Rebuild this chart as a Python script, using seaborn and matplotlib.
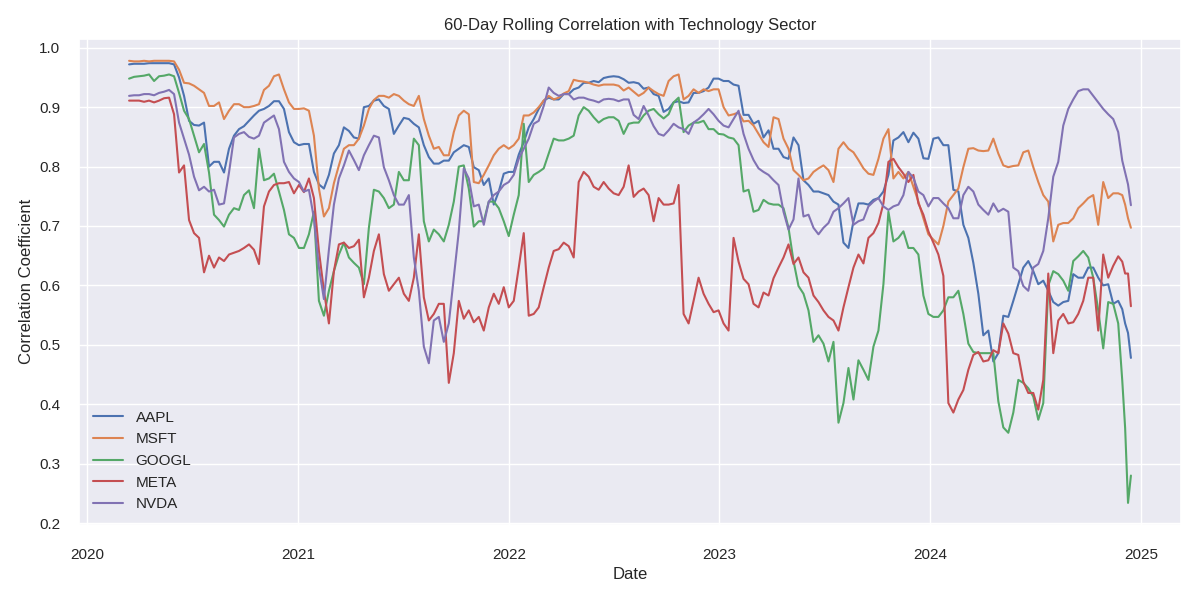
import numpy as np
import pandas as pd
import matplotlib
matplotlib.use("Agg")
import matplotlib.pyplot as plt
import seaborn as sns

# Sample dates: ~8.6-day steps from mid March 2020 to late Nov 2024, then a denser tail
grid_start = "2020-03-14"
grid_end = "2024-11-22"
grid_points = 199
tail_dates = ["2024-11-29", "2024-12-04", "2024-12-09", "2024-12-14"]

tickers = ["AAPL", "MSFT", "GOOGL", "META", "NVDA"]

# Values read at even grid steps ("_a") and at the half-steps in between ("_b")
aapl_a = [0.972, 0.973, 0.974, 0.974, 0.974, 0.95, 0.877, 0.869, 0.80, 0.808,
          0.83, 0.863, 0.877, 0.894, 0.902, 0.91, 0.858, 0.836, 0.838, 0.77,
          0.786, 0.836, 0.86, 0.847, 0.902, 0.913, 0.897, 0.869, 0.88, 0.866,
          0.816, 0.805, 0.81, 0.83, 0.833, 0.794, 0.78, 0.758, 0.791, 0.82,
          0.866, 0.897, 0.916, 0.913, 0.922, 0.933, 0.941, 0.942, 0.951, 0.951,
          0.941, 0.94, 0.933, 0.919, 0.897, 0.91, 0.908, 0.924, 0.933, 0.948,
          0.944, 0.936, 0.887, 0.877, 0.861, 0.83, 0.813, 0.836, 0.769, 0.758,
          0.752, 0.736, 0.663, 0.738, 0.736, 0.747, 0.786, 0.849, 0.841, 0.847,
          0.813, 0.849, 0.836, 0.758, 0.68, 0.586, 0.524, 0.486, 0.547, 0.602,
          0.641, 0.602, 0.591, 0.566, 0.574, 0.613, 0.63, 0.613, 0.602, 0.574]
aapl_b = [0.973, 0.973, 0.974, 0.974, 0.972, 0.919, 0.87, 0.874, 0.808, 0.79,
          0.852, 0.868, 0.886, 0.897, 0.91, 0.897,
          0.841, 0.838, 0.791, 0.763, 0.822, 0.866, 0.849, 0.9, 0.911, 0.902,
          0.855, 0.882, 0.872, 0.836, 0.805, 0.81, 0.824,
          0.836, 0.799, 0.769, 0.736, 0.788, 0.791, 0.841, 0.88, 0.911, 0.913,
          0.922, 0.93, 0.941, 0.944, 0.949, 0.952, 0.947,
          0.942, 0.931, 0.922, 0.892, 0.908, 0.907, 0.924, 0.927, 0.948, 0.944,
          0.938, 0.887, 0.872, 0.849, 0.83, 0.816, 0.849,
          0.777, 0.758, 0.755, 0.741, 0.672, 0.708, 0.738, 0.744, 0.758, 0.844,
          0.858, 0.857, 0.814, 0.847, 0.836, 0.761, 0.702,
          0.638, 0.516, 0.472, 0.549, 0.574, 0.63, 0.624, 0.608, 0.572, 0.572,
          0.619, 0.613, 0.63, 0.6, 0.569]
aapl_tail = [0.56, 0.536, 0.52, 0.478]

msft_a = [0.978, 0.977, 0.977, 0.978, 0.978, 0.963, 0.94, 0.93, 0.902, 0.908,
          0.894, 0.905, 0.90, 0.905, 0.936, 0.955, 0.908, 0.897, 0.894, 0.763,
          0.73, 0.802, 0.836, 0.847, 0.897, 0.919, 0.916, 0.919, 0.905, 0.919,
          0.852, 0.833, 0.819, 0.886, 0.888, 0.772, 0.802, 0.83, 0.83, 0.847,
          0.886, 0.90, 0.919, 0.916, 0.927, 0.944, 0.941, 0.936, 0.938, 0.936,
          0.933, 0.919, 0.933, 0.922, 0.944, 0.955, 0.919, 0.924, 0.927, 0.93,
          0.886, 0.891, 0.877, 0.855, 0.833, 0.88, 0.83, 0.786, 0.78, 0.797,
          0.794, 0.83, 0.83, 0.811, 0.788, 0.813, 0.863, 0.791, 0.791, 0.741,
          0.686, 0.669, 0.741, 0.763, 0.83, 0.827, 0.827, 0.822, 0.799, 0.802,
          0.827, 0.774, 0.741, 0.702, 0.705, 0.73, 0.747, 0.702, 0.747, 0.755]
msft_b = [0.977, 0.978, 0.978, 0.978, 0.977, 0.941, 0.936, 0.924, 0.902, 0.88,
          0.905, 0.90, 0.902, 0.929, 0.952, 0.93,
          0.897, 0.898, 0.852, 0.716, 0.772, 0.83, 0.836, 0.869, 0.912, 0.919,
          0.922, 0.911, 0.902, 0.88, 0.83, 0.819, 0.858,
          0.894, 0.774, 0.786, 0.819, 0.836, 0.836, 0.886, 0.891, 0.911, 0.913,
          0.923, 0.946, 0.943, 0.938, 0.938, 0.938, 0.928,
          0.926, 0.924, 0.927, 0.919, 0.952, 0.913, 0.93, 0.93, 0.93, 0.90,
          0.888, 0.876, 0.869, 0.841, 0.883, 0.847, 0.794,
          0.777, 0.791, 0.802, 0.774, 0.841, 0.824, 0.797, 0.786, 0.847, 0.78,
          0.78, 0.766, 0.713, 0.677, 0.70, 0.752, 0.799,
          0.831, 0.826, 0.847, 0.802, 0.801, 0.824, 0.799, 0.752, 0.674, 0.705,
          0.713, 0.738, 0.752, 0.774, 0.755]
msft_tail = [0.752, 0.736, 0.713, 0.697]

googl_a = [0.948, 0.952, 0.955, 0.952, 0.955, 0.924, 0.88, 0.824, 0.79, 0.71,
           0.719, 0.727, 0.76, 0.83, 0.78, 0.758, 0.686, 0.663, 0.686, 0.574,
           0.591, 0.652, 0.647, 0.63, 0.697, 0.758, 0.73, 0.791, 0.777, 0.836,
           0.674, 0.686, 0.702, 0.80, 0.763, 0.708, 0.741, 0.73, 0.683, 0.752,
           0.774, 0.791, 0.822, 0.844, 0.847, 0.886, 0.894, 0.874, 0.883, 0.877,
           0.872, 0.874, 0.894, 0.888, 0.888, 0.916, 0.869, 0.874, 0.863, 0.855,
           0.849, 0.836, 0.761, 0.727, 0.738, 0.736, 0.697, 0.599, 0.558, 0.516,
           0.472, 0.369, 0.461, 0.474, 0.441, 0.524, 0.724, 0.68, 0.663, 0.652,
           0.552, 0.547, 0.58, 0.591, 0.502, 0.486, 0.486, 0.405, 0.352, 0.441,
           0.427, 0.374, 0.60, 0.619, 0.591, 0.649, 0.647, 0.558, 0.572, 0.536]
googl_b = [0.951, 0.953, 0.944, 0.953, 0.952, 0.894, 0.852, 0.838, 0.719, 0.699,
           0.73, 0.752, 0.73, 0.777, 0.788, 0.727,
           0.68, 0.663, 0.724, 0.549, 0.624, 0.672, 0.638, 0.602, 0.761, 0.747,
           0.736, 0.777, 0.847, 0.708, 0.694, 0.674, 0.741,
           0.802, 0.699, 0.708, 0.741, 0.708, 0.719, 0.872, 0.786, 0.797, 0.847,
           0.844, 0.852, 0.90, 0.883, 0.88, 0.883, 0.855,
           0.874, 0.886, 0.897, 0.881, 0.908, 0.858, 0.874, 0.877, 0.863, 0.854,
           0.847, 0.758, 0.724, 0.744, 0.736, 0.73, 0.641,
           0.586, 0.505, 0.502, 0.505, 0.402, 0.408, 0.458, 0.497, 0.602, 0.674,
           0.691, 0.663, 0.583, 0.547, 0.558, 0.58, 0.552,
           0.488, 0.486, 0.486, 0.361, 0.386, 0.436, 0.413, 0.402, 0.624, 0.608,
           0.641, 0.658, 0.613, 0.494, 0.569]
googl_tail = [0.44, 0.36, 0.234, 0.28]

meta_a = [0.911, 0.911, 0.911, 0.911, 0.916, 0.79, 0.71, 0.68, 0.65, 0.647,
          0.652, 0.658, 0.669, 0.636, 0.758, 0.772, 0.774, 0.769, 0.78, 0.658,
          0.536, 0.669, 0.663, 0.677, 0.613, 0.686, 0.591, 0.613, 0.574, 0.686,
          0.541, 0.569, 0.436, 0.574, 0.558, 0.547, 0.563, 0.569, 0.563, 0.63,
          0.549, 0.563, 0.63, 0.661, 0.666, 0.774, 0.783, 0.761, 0.763, 0.752,
          0.802, 0.758, 0.752, 0.747, 0.736, 0.769, 0.536, 0.613, 0.569, 0.558,
          0.524, 0.64, 0.602, 0.563, 0.583, 0.63, 0.669, 0.647, 0.613, 0.572,
          0.547, 0.524, 0.597, 0.652, 0.68, 0.705, 0.808, 0.799, 0.774, 0.738,
          0.691, 0.652, 0.402, 0.408, 0.458, 0.488, 0.474, 0.486, 0.519, 0.483,
          0.419, 0.391, 0.62, 0.541, 0.536, 0.552, 0.613, 0.524, 0.613, 0.649]
meta_b = [0.911, 0.909, 0.908, 0.915, 0.888, 0.802, 0.688, 0.622, 0.63, 0.641,
          0.655, 0.663, 0.66, 0.733, 0.769, 0.772,
          0.755, 0.757, 0.747, 0.591, 0.624, 0.672, 0.666, 0.58, 0.658, 0.619,
          0.602, 0.586, 0.613, 0.58, 0.552, 0.569, 0.486,
          0.544, 0.538, 0.524, 0.586, 0.597, 0.574, 0.688, 0.552, 0.597, 0.658,
          0.672, 0.647, 0.791, 0.766, 0.774, 0.755, 0.766,
          0.749, 0.763, 0.708, 0.736, 0.738, 0.552, 0.574, 0.586, 0.555, 0.536,
          0.68, 0.611, 0.569, 0.588, 0.612, 0.647, 0.636,
          0.622, 0.583, 0.558, 0.541, 0.563, 0.63, 0.637, 0.688, 0.738, 0.813,
          0.788, 0.786, 0.719, 0.672, 0.616, 0.386, 0.424,
          0.483, 0.472, 0.491, 0.536, 0.486, 0.438, 0.419, 0.441, 0.486, 0.552,
          0.538, 0.574, 0.613, 0.652, 0.633]
meta_tail = [0.64, 0.62, 0.62, 0.565]

nvda_a = [0.919, 0.92, 0.922, 0.924, 0.929, 0.874, 0.82, 0.76, 0.758, 0.736,
          0.79, 0.855, 0.85, 0.852, 0.88, 0.863, 0.791, 0.774, 0.761, 0.63,
          0.66, 0.78, 0.827, 0.794, 0.836, 0.849, 0.777, 0.736, 0.752, 0.591,
          0.469, 0.547, 0.536, 0.691, 0.78, 0.736, 0.741, 0.758, 0.774, 0.813,
          0.847, 0.877, 0.933, 0.919, 0.922, 0.916, 0.913, 0.908, 0.914, 0.91,
          0.913, 0.88, 0.886, 0.855, 0.861, 0.866, 0.855, 0.88, 0.897, 0.877,
          0.866, 0.894, 0.83, 0.797, 0.786, 0.769, 0.694, 0.78, 0.719, 0.686,
          0.705, 0.73, 0.747, 0.708, 0.733, 0.747, 0.727, 0.736, 0.791, 0.758,
          0.733, 0.747, 0.73, 0.713, 0.766, 0.736, 0.719, 0.724, 0.724, 0.624,
          0.591, 0.636, 0.713, 0.808, 0.897, 0.927, 0.93, 0.908, 0.888, 0.858]
nvda_b = [0.92, 0.922, 0.92, 0.926, 0.922, 0.847, 0.783, 0.766, 0.761, 0.738,
          0.849, 0.858, 0.847, 0.874, 0.886, 0.808,
          0.78, 0.758, 0.713, 0.577, 0.736, 0.802, 0.811, 0.819, 0.852, 0.799,
          0.752, 0.736, 0.647, 0.497, 0.541, 0.505, 0.613,
          0.797, 0.733, 0.702, 0.752, 0.769, 0.786, 0.83, 0.872, 0.902, 0.924,
          0.922, 0.913, 0.916, 0.911, 0.913, 0.913, 0.913,
          0.887, 0.902, 0.868, 0.852, 0.872, 0.863, 0.874, 0.888, 0.888, 0.869,
          0.88, 0.855, 0.811, 0.791, 0.777, 0.724, 0.711,
          0.716, 0.697, 0.697, 0.724, 0.738, 0.702, 0.711, 0.741, 0.733, 0.733,
          0.752, 0.781, 0.752, 0.747, 0.738, 0.713, 0.752,
          0.758, 0.727, 0.738, 0.729, 0.63, 0.599, 0.63, 0.658, 0.783, 0.869,
          0.913, 0.93, 0.919, 0.897, 0.88]
nvda_tail = [0.81, 0.79, 0.77, 0.735]

raw = {
    "AAPL": (aapl_a, aapl_b, aapl_tail),
    "MSFT": (msft_a, msft_b, msft_tail),
    "GOOGL": (googl_a, googl_b, googl_tail),
    "META": (meta_a, meta_b, meta_tail),
    "NVDA": (nvda_a, nvda_b, nvda_tail),
}


def merge(a, b, tail):
    out = []
    for x, y in zip(a[:-1], b):
        out += [x, y]
    return out + [a[-1]] + list(tail)


dates = pd.date_range(grid_start, grid_end, periods=grid_points).append(
    pd.to_datetime(tail_dates))

sns.set_theme(style="darkgrid")
plt.rcParams['font.family'] = ['Liberation Sans', 'DejaVu Sans']

fig, ax = plt.subplots(figsize=(12, 6), dpi=100)
palette = sns.color_palette("deep")
for name, col in zip(tickers, palette):
    vals = merge(*raw[name])
    sns.lineplot(x=dates, y=vals, ax=ax, label=name, color=col, linewidth=1.5)

ax.set_title("60-Day Rolling Correlation with Technology Sector")
ax.set_xlabel("Date")
ax.set_ylabel("Correlation Coefficient")
ax.tick_params(axis="y", pad=7.5)
ax.tick_params(axis="x", pad=10.5)
ax.legend(loc="lower left", frameon=False)
fig.subplots_adjust(left=79 / 1200, right=1181 / 1200,
                    top=1 - 38.7 / 600, bottom=1 - 525 / 600)
fig.savefig("out.png", dpi=100)
